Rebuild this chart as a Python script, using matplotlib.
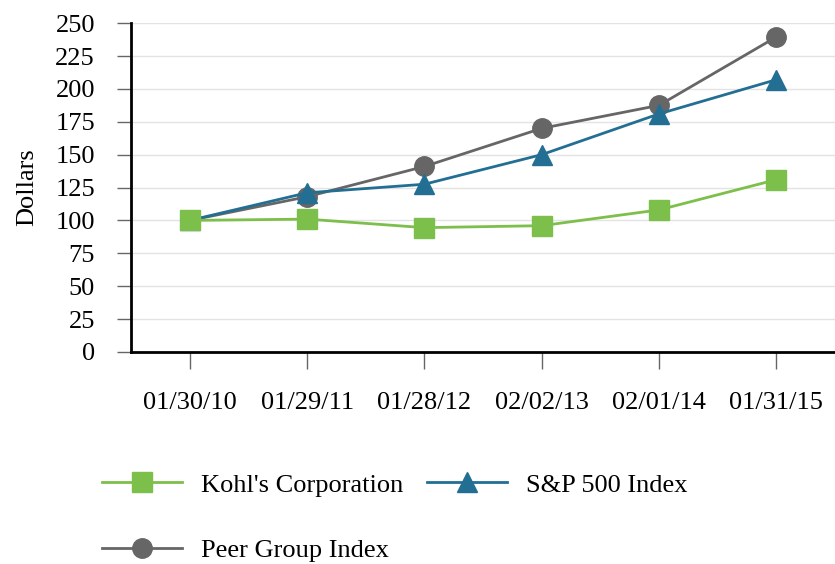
import matplotlib
matplotlib.use("Agg")
import matplotlib.pyplot as plt

plt.rcParams['font.family'] = ['Liberation Serif', 'DejaVu Serif']

# данные
dates = ['01/30/10', '01/29/11', '01/28/12', '02/02/13', '02/01/14', '01/31/15']
kohls = [100, 101, 94.5, 96, 108, 131]
sp500 = [100, 121, 127.5, 150, 181, 207]
peer = [100, 118, 141, 170, 187.5, 239.5]

fig = plt.figure(figsize=(8.35, 5.64), dpi=100)
ax = fig.add_axes([0.157, 0.376, 0.843, 0.583])

x = range(len(dates))
l1, = ax.plot(x, kohls, color='#7dbf4b', lw=2, marker='s', ms=14, zorder=4, label="Kohl's Corporation")
l2, = ax.plot(x, sp500, color='#236f94', lw=2, marker='^', ms=15, zorder=3, label='S&P 500 Index')
l3, = ax.plot(x, peer, color='#666666', lw=2, marker='o', ms=14, zorder=2, label='Peer Group Index')

ax.set_xlim(-0.5, 5.5)
ax.set_ylim(0, 250)
ax.set_yticks(range(0, 251, 25))
ax.set_xticks(list(x))
ax.set_xticklabels(dates)
ax.yaxis.grid(True, color='#e3e3e3', lw=1)
ax.set_axisbelow(True)

for s in ['top', 'right']:
    ax.spines[s].set_visible(False)
for s in ['left', 'bottom']:
    ax.spines[s].set_linewidth(2)
    ax.spines[s].set_color('black')

ax.tick_params(axis='y', length=10, width=1, color='#666666', labelsize=19, pad=16)
ax.tick_params(axis='x', length=12, width=1, color='#666666', labelsize=19, pad=17)
ax.set_ylabel('Dollars', fontsize=19, labelpad=12)

# порядок как в оригинале: Kohl's, S&P в первой строке, Peer во второй
fig.legend([l1, l3, l2], [l1.get_label(), l3.get_label(), l2.get_label()],
           loc='upper left', bbox_to_anchor=(0.11, 0.18), ncol=2, frameon=False,
           fontsize=19, handlelength=3.0, handletextpad=0.75, columnspacing=0.9,
           labelspacing=1.6, borderaxespad=0)

fig.savefig('out.png', dpi=100)
